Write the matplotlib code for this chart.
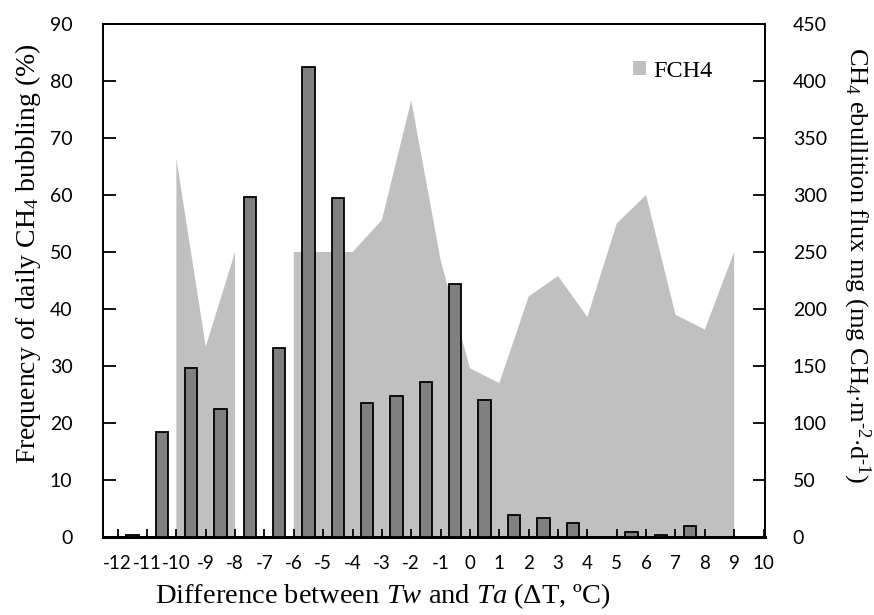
import numpy as np
import matplotlib
matplotlib.use("Agg")
import matplotlib.pyplot as plt
from matplotlib.patches import Patch

# ---- data ----
bar_x = [-11.5, -10.5, -9.5, -8.5, -7.5, -6.5, -5.5, -4.5, -3.5, -2.5, -1.5,
         -0.5, 0.5, 1.5, 2.5, 3.5, 5.5, 6.5, 7.5]
freq = [0.3, 18.5, 29.6, 22.4, 59.6, 33.2, 82.4, 59.4, 23.5, 24.7, 27.2,
        44.4, 24.1, 3.9, 3.3, 2.4, 0.9, 0.3, 1.9]

area_x = [-10, -9, -8, -7, -6, -5, -4, -3, -2, -1, 0, 1, 2, 3, 4, 5, 6, 7, 8, 9]
fch4 = [332, 167, 250, np.nan, 250, 250, 250, 278, 383, 243, 148, 135,
        211, 229, 193, 275, 300, 195, 182, 250]

xticks = list(range(-12, 11))
left_ticks = list(range(0, 91, 10))
right_ticks = list(range(0, 451, 50))

plt.rcParams['mathtext.fontset'] = 'custom'
plt.rcParams['mathtext.rm'] = 'Liberation Serif'
plt.rcParams['mathtext.it'] = 'Liberation Serif:italic'
plt.rcParams['mathtext.bf'] = 'Liberation Serif:bold'

tick_font = 'Lato'
serif = 'Liberation Serif'

fig = plt.figure(figsize=(8.74, 6.15), dpi=100)
ax = fig.add_axes([103/874, 1-537/615, (765-103)/874, (537-24)/615])
ax2 = ax.twinx()
ax.set_zorder(2)
ax2.set_zorder(1)
ax.patch.set_visible(False)

# area (right axis)
ax2.fill_between(area_x, 0, fch4, color='#C0C0C0', linewidth=0, zorder=1)
ax2.set_ylim(0, 450)
ax2.set_yticks(right_ticks)

# bars (left axis)
ax.bar(bar_x, freq, width=0.42, color='#808080', edgecolor='black', linewidth=1.3, zorder=3)
ax.set_ylim(0, 90)
ax.set_yticks(left_ticks)
ax.set_xlim(-12.5, 10.05)
ax.set_xticks(xticks)
ax.set_xticklabels([str(t) for t in xticks])

for a in (ax, ax2):
    for s in a.spines.values():
        s.set_color('black')
        s.set_linewidth(1.3)
    a.spines['bottom'].set_linewidth(2)

ax.tick_params(axis='x', direction='in', length=6, width=1.3, pad=13, labelsize=13.5)
ax.tick_params(axis='y', direction='in', length=9, width=1.3, pad=22, labelsize=14)
ax2.tick_params(axis='y', direction='in', length=9, width=1.3, pad=20, labelsize=14)
for lab in ax.get_xticklabels() + ax.get_yticklabels() + ax2.get_yticklabels():
    lab.set_fontfamily(tick_font)
ax.xaxis.set_ticks_position('bottom')

fig.text(383/874, 1-596/615,
         r'Difference between $\mathit{Tw}$ and $\mathit{Ta}$ ($\Delta$T, ºC)',
         ha='center', va='center', fontfamily=serif, fontsize=20.5)
fig.text(28/874, 1-254/615, r'Frequency of daily CH$_4$ bubbling (%)',
         rotation=90, ha='center', va='center', fontfamily=serif, fontsize=20)
fig.text(857/874, 1-265/615,
         r'CH$_4$ ebullition flux mg (mg CH$_4$$\cdot$m$^{\text{-}2}$$\cdot$d$^{\text{-}1}$)',
         rotation=270, ha='center', va='center', fontfamily=serif, fontsize=19)

handle = Patch(facecolor='#C0C0C0', edgecolor='none')
leg = ax.legend([handle], ['FCH4'], loc='center left', bbox_to_anchor=(0.80, 0.908),
                frameon=False, handlelength=0.55, handleheight=0.55, handletextpad=0.3,
                borderpad=0, borderaxespad=0, prop={'family': serif, 'size': 17.5})

fig.savefig('out.png', dpi=100)
